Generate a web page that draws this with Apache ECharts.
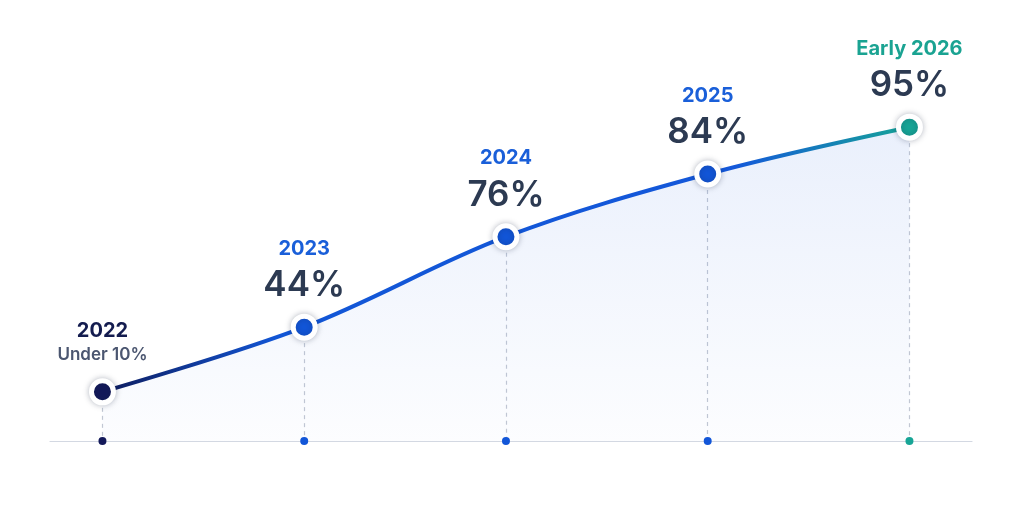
<!DOCTYPE html>
<html>
<head>
<meta charset="utf-8">
<script src="https://cdn.jsdelivr.net/npm/echarts@6/dist/echarts.min.js"></script>
<style>
html,body{margin:0;padding:0;background:#fff;}
#chart{width:1024px;height:512px;}
</style>
</head>
<body>
<div id="chart"></div>
<script>
// ---- data ----
const categories = ['2022', '2023', '2024', '2025', 'Early 2026'];
const valueLabels = ['Under 10%', '44%', '76%', '84%', '95%'];
// vertical level of each point on the stylised curve (0-100 scale)
const curveLevels = [14.9, 34.5, 61.9, 80.9, 95.1];

// ---- styles ----
const NAVY = '#13195a', BLUE = '#1256d8', TEAL = '#17a596';
const pointPalette = [NAVY, BLUE, BLUE, BLUE, TEAL];
const yearPalette = ['#141c4f', '#1a5fd9', '#1a5fd9', '#1a5fd9', '#1aa392'];
const FONT = 'Inter, "Noto Sans", sans-serif';

const chart = echarts.init(document.getElementById('chart'));

const lineData = curveLevels.map((v, i) => {
  const first = i === 0;
  return {
    value: [i, v],
    itemStyle: { color: pointPalette[i] },
    label: {
      show: true,
      position: 'top',
      distance: first ? 12 : 7,
      formatter: first
        ? '{y|' + categories[i] + '}\n{s|' + valueLabels[i] + '}'
        : '{y|' + categories[i] + '}\n{p|' + valueLabels[i] + '}',
      rich: {
        y: { fontFamily: FONT, fontSize: 20, fontWeight: 700, color: yearPalette[i], lineHeight: first ? 26 : 32, align: 'center' },
        p: { fontFamily: FONT, fontSize: 35, fontWeight: 600, color: '#2c3a52', lineHeight: 42, align: 'center' },
        s: { fontFamily: FONT, fontSize: 17, fontWeight: 600, color: '#4b5670', lineHeight: 22, align: 'center' }
      }
    }
  };
});

const dropLines = curveLevels.map((v, i) => [{ coord: [i, v] }, { coord: [i, 0] }]);
const baseDots = categories.map((c, i) => ({ value: [i, 0], itemStyle: { color: pointPalette[i], opacity: 1 } }));

chart.setOption({
  animation: false,
  backgroundColor: '#ffffff',
  grid: { left: 50, right: 52, top: 111, bottom: 71 },
  xAxis: {
    type: 'value', min: -0.26, max: 4.31,
    axisLine: { show: true, lineStyle: { color: '#d3d8e2', width: 1.2 } },
    axisTick: { show: false }, axisLabel: { show: false }, splitLine: { show: false }
  },
  yAxis: {
    type: 'value', min: 0, max: 100, show: false, splitLine: { show: false }
  },
  series: [
    {
      type: 'line',
      data: lineData,
      smooth: 0.35,
      symbol: 'circle',
      symbolSize: 22,
      z: 5,
      lineStyle: {
        width: 4,
        color: new echarts.graphic.LinearGradient(0, 0, 1, 0, [
          { offset: 0, color: '#0e1b5a' },
          { offset: 0.22, color: '#1256d6' },
          { offset: 0.78, color: '#1458da' },
          { offset: 1, color: '#16a596' }
        ])
      },
      itemStyle: {
        borderColor: '#ffffff', borderWidth: 5,
        shadowBlur: 6, shadowColor: 'rgba(20,30,60,0.25)'
      },
      areaStyle: {
        color: new echarts.graphic.LinearGradient(0, 0, 0, 1, [
          { offset: 0, color: 'rgba(40,100,225,0.14)' },
          { offset: 1, color: 'rgba(40,100,225,0.02)' }
        ])
      },
      markLine: {
        silent: true,
        symbol: ['none', 'none'],
        label: { show: false },
        lineStyle: { color: '#c3c8d3', type: [4, 4], width: 1.2 },
        z: 1,
        data: dropLines
      }
    },
    {
      type: 'scatter',
      data: baseDots,
      symbol: 'circle',
      symbolSize: 8,
      z: 6
    }
  ]
});
</script>
</body>
</html>
